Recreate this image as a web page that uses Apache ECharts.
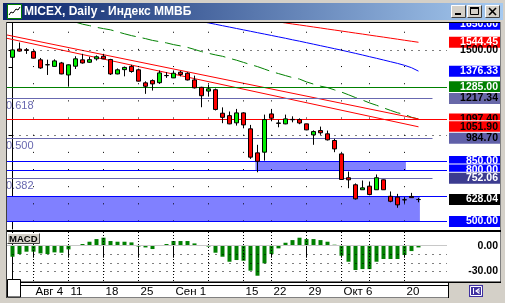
<!DOCTYPE html>
<html><head><meta charset="utf-8">
<script src="https://cdn.jsdelivr.net/npm/echarts@6/dist/echarts.min.js"></script>
<style>html,body{margin:0;padding:0;background:#d4d0c8;overflow:hidden}#c{width:505px;height:303px}</style>
</head><body><div id="c"></div>
<script>
// ---------------- data ----------------
const dates = ['2008-07-30','2008-07-31','2008-08-01','2008-08-04','2008-08-05','2008-08-06','2008-08-07','2008-08-08',
 '2008-08-11','2008-08-12','2008-08-13','2008-08-14','2008-08-15','2008-08-18','2008-08-19','2008-08-20','2008-08-21','2008-08-22',
 '2008-08-25','2008-08-26','2008-08-27','2008-08-28','2008-08-29','2008-09-01','2008-09-02','2008-09-03','2008-09-04','2008-09-05',
 '2008-09-08','2008-09-09','2008-09-10','2008-09-11','2008-09-12','2008-09-15','2008-09-16','2008-09-17','2008-09-19',
 '2008-09-22','2008-09-23','2008-09-24','2008-09-25','2008-09-26','2008-09-29','2008-09-30','2008-10-01','2008-10-02','2008-10-03',
 '2008-10-06','2008-10-07','2008-10-08','2008-10-09','2008-10-13','2008-10-14','2008-10-15','2008-10-16','2008-10-17',
 '2008-10-20','2008-10-21','2008-10-22'];
const openP  = [1457,1505,1501,1490,1442,1414,1404,1424,1354,1405,1442,1428,1448,1463,1444,1360,1385,1404,1384,1308,1321,1309,1351,1337,1370,1364,1325,1282,1260,1268,1131,1117,1075,1133,1040,900,904,1127,1074,1069,1095,1094,1069,1005,1030,1011,972,894,755,714,685,706,685,743,647,642,627,646,628];
const highP  = [1506,1543,1511,1496,1453,1443,1445,1430,1415,1463,1477,1460,1468,1477,1448,1392,1403,1413,1391,1317,1328,1380,1370,1380,1378,1370,1350,1285,1298,1275,1165,1141,1156,1137,1063,947,1123,1156,1092,1123,1113,1101,1070,1031,1053,1030,982,898,791,722,739,733,774,745,675,661,642,667,638];
const lowP   = [1442,1490,1477,1450,1390,1354,1403,1358,1286,1389,1420,1425,1438,1446,1354,1358,1346,1367,1316,1244,1263,1302,1337,1336,1346,1322,1275,1166,1228,1147,1073,1067,1059,1043,865,787,855,1084,1049,1067,1078,1067,1032,947,1005,972,904,744,694,628,685,653,685,684,612,580,607,638,612];
const closeP = [1500,1493,1497,1452,1395,1413,1436,1360,1413,1448,1424,1443,1460,1448,1360,1384,1398,1374,1318,1288,1302,1366,1350,1364,1357,1325,1279,1233,1273,1153,1107,1069,1133,1063,875,851,1094,1102,1072,1098,1093,1074,1034,1024,1017,976,923,745,743,632,696,657,755,685,618,597,626,639,628.04];
const macdHist = [-12.9,-9.8,-7,-7,-9,-9.8,-7.8,-8.2,-4.3,0.3,2,4.7,7.8,9.4,5.5,4.7,4.7,3.9,-1,-2,-3.9,0,2,5.5,5.5,5.5,2.7,0.5,-1,-8.2,-12.9,-18.8,-16.8,-17.6,-29.3,-35.2,-20.7,-9.8,-3.1,3.5,6.6,9.4,7.8,7.8,6.6,4.7,1.2,-11.7,-18.8,-28.5,-27.4,-27.4,-18.8,-15.6,-15.6,-15.6,-10.9,-6.3,-2];
const maGreenStart = 9;
const maGreen = [1662,1650,1641.5,1631.6,1624,1617,1605.4,1593.8,1583.3,1574.5,1565.8,1555.3,1548.3,1540.8,1530.9,1523.3,1514.6,1502.9,1490.1,1480.2,1470.9,1462.7,1451.1,1440,1427.2,1414.4,1402.7,1388.2,1373.6,1362,1350.3,1338.7,1330,1313.6,1300.8,1288.6,1280.4,1267,1254.2,1238.5,1222.2,1207.6,1191.3,1177.4,1162.2,1147.6,1133.7,1124.4,1107.5,1097.4];
const maBlueStart = 27;
const maBlue = [1664.6,1657.6,1649.4,1641.2,1633.1,1624.9,1616.8,1608.6,1600.4,1592.3,1584.1,1575.9,1567.8,1559,1550.9,1542.1,1533.4,1524.6,1515.9,1507.1,1498.4,1489,1479.7,1470.4,1460.5,1451.1,1441.2,1431.3,1421.4,1410.3,1396.3,1376.33];
const maRedStart = 37;
const maRed = [1669,1663,1657,1651,1645.5,1639.5,1633.5,1627.8,1621.6,1615.9,1610,1604,1598,1592.3,1586.2,1580.3,1574.5,1568.4,1562.5,1556.3,1550.4,1544.45];
const trendLines = [[-0.79,1586.9,58,1097.4],[-0.79,1567.6,58,1051.9]];
const fibRatios = ['0.618','0.500','0.382'];
const fibPrices = [1217.34,984.70,752.06];
const fibEndBar = 60;
const levelPrices = [1285,1097.4,850,800,645,500];
const zones = [[34.7,800,56.2,850],[-5,500,58.2,645]];
const priceLabels = [1650,1544.45,1500,1376.33,1285,1217.34,1097.4,1051.9,984.7,850,800,752.06,628.04,500];
const priceTicks = [1500,1400,1000,600];
const priceGridRows = [1500,1000];
const macdLabels = [0,-30];
const macdGridRows = [-10,-20,-30];
const weekBars = [3,8,13,18,23,28,33,37,42,47,51,56];
const xLabelBars = [3,8,13,18,23,33,37,42,47,56];
const xLabelText = ['Авг 4','11','18','25','Сен 1','15','22','29','Окт 6','20'];

// ---------------- styles ----------------
const FONT = 'Liberation Sans';
const XMIN = -0.7857, XMAX = XMIN + 440/7;
const levelColors = ['#008000','#ff0000','#0000ff','#0000ff','#0000ff','#0000ff'];
const labelBg = ['#0000ff','#ff0000','transparent','#0000ff','#008000','#6868a8','#ff0000','#ff0000','#6060a8','#0000ff','#0000ff','#3c3c90','#000000','#0000ff'];
const labelFg = ['#fff','#fff','#000','#fff','#fff','#000','#000','#000','#000','#fff','#fff','#fff','#fff','#fff'];
const fibColor = '#6868b0';

const rich = {};
priceLabels.forEach((p,k)=>{
  rich['p'+k] = {backgroundColor:labelBg[k], color:labelFg[k], width:47, align:'right', padding:[0,2,0,2],
    lineHeight:11, height:11, fontSize:10.5, fontWeight:'bold', fontFamily:FONT,
    borderColor: labelBg[k]==='transparent'?'transparent':'#fff', borderWidth: labelBg[k]==='transparent'?0:1};
});
const richM = {m:{width:47, align:'right', padding:[0,2,0,2], fontSize:10.5, fontWeight:'bold', fontFamily:FONT, color:'#000'}};

const chart = echarts.init(document.getElementById('c'), null, {renderer:'canvas'});

const candleData = openP.map((o,i)=>[i,o,closeP[i],lowP[i],highP[i]]);
const seq = (start, arr) => arr.map((v,k)=>[start+k, v]);

const gridMarks = [
  ...weekBars.map(b=>({xAxis:b, lineStyle:{type:[1,16.16], dashOffset:9.66, color:'#000', width:1}})),
  ...priceGridRows.map(v=>({yAxis:v, lineStyle:{type:[1,6], dashOffset:1.5, color:'#000', width:1}}))
];
const levelMarks = levelPrices.map((v,k)=>({yAxis:v, lineStyle:{type:'solid', color:levelColors[k], width:1}}));
const fibLine = {type:'solid', color:fibColor, width:1};
const fibMarks = fibPrices.map((v,k)=>[
  {coord:[XMIN,v], lineStyle:fibLine, label:{show:true, position:'insideStartBottom', formatter:fibRatios[k], color:fibColor,
     fontSize:11, fontFamily:FONT, distance:[-1,2]}},
  {coord:[fibEndBar,v], lineStyle:fibLine}
]);
const zoneMarks = zones.map(z=>[{coord:[z[0],z[1]]},{coord:[z[2],z[3]]}]);

const macdMarks = [
  ...weekBars.map(b=>({xAxis:b, lineStyle:{type:[1,2], color:'#000', width:1}})),
  ...macdGridRows.map(v=>({yAxis:v, lineStyle:{type:[1,6], dashOffset:1.5, color:'#000', width:1}})),
  {yAxis:0, lineStyle:{type:'solid', color:'#c8c8c8', width:1}}
];

// ---------------- chrome ----------------
const G = [];
G.push({type:'rect', z:-10, silent:true, shape:{x:0,y:0,width:505,height:303}, style:{fill:'#d4d0c8'}});
G.push({type:'rect', z:-9, silent:true, shape:{x:7,y:23,width:493,height:260}, style:{fill:'#fff'}});
G.push({type:'rect', z:-9, silent:true, shape:{x:7,y:283,width:441,height:15}, style:{fill:'#fff'}});
// title bar
G.push({type:'rect', z:49, silent:true, shape:{x:0,y:0,width:505,height:22}, style:{fill:'#d4d0c8'}});
G.push({type:'rect', z:49, silent:true, shape:{x:3,y:3,width:500,height:17},
  style:{fill:new echarts.graphic.LinearGradient(0,0,1,0,[{offset:0,color:'#0a246a'},{offset:1,color:'#a6caf0'}])}});
G.push({type:'rect', z:50, silent:true, shape:{x:7.5,y:4.5,width:14,height:14}, style:{fill:'#fff', stroke:'#008000', lineWidth:1}});
G.push({type:'polyline', z:51, silent:true, shape:{points:[[9,15],[11,12],[13,13],[16,9],[18,10],[20,7]]}, style:{stroke:'#000', lineWidth:1, fill:null}});
G.push({type:'text', z:51, silent:true, style:{text:'MICEX, Daily - Индекс ММВБ', x:24, y:12, verticalAlign:'middle', fill:'#fff', font:'bold 12px "Liberation Sans"'}});
[451,467,485].forEach((bx,k)=>{
  G.push({type:'rect', z:50, silent:true, shape:{x:bx,y:5,width:15,height:13}, style:{fill:'#d4d0c8'}});
  G.push({type:'polyline', z:51, silent:true, shape:{points:[[bx+0.5,17.5],[bx+0.5,5.5],[bx+14.5,5.5]]}, style:{stroke:'#fff', lineWidth:1, fill:null}});
  G.push({type:'polyline', z:51, silent:true, shape:{points:[[bx+0.5,17.5],[bx+14.5,17.5],[bx+14.5,5.5]]}, style:{stroke:'#404040', lineWidth:1, fill:null}});
  if(k===0) G.push({type:'rect', z:52, silent:true, shape:{x:bx+4,y:13,width:6,height:2}, style:{fill:'#000'}});
  if(k===1){ G.push({type:'rect', z:52, silent:true, shape:{x:bx+3.5,y:7.5,width:8,height:7}, style:{fill:null, stroke:'#000', lineWidth:1}});
             G.push({type:'rect', z:52, silent:true, shape:{x:bx+3,y:7,width:9,height:2}, style:{fill:'#000'}}); }
  if(k===2){ G.push({type:'line', z:52, silent:true, shape:{x1:bx+4,y1:8,x2:bx+11,y2:15}, style:{stroke:'#000', lineWidth:1.6}});
             G.push({type:'line', z:52, silent:true, shape:{x1:bx+11,y1:8,x2:bx+4,y2:15}, style:{stroke:'#000', lineWidth:1.6}}); }
});
// frame lines
const L = (x1,y1,x2,y2,c,w)=>G.push({type:'line', z:50, silent:true, shape:{x1,y1,x2,y2}, style:{stroke:c, lineWidth:w||1}});
L(6,22.5,501,22.5,'#000',1.2);
L(6.5,22,6.5,298,'#404040');
L(500.5,22,500.5,283,'#808080');
G.push({type:'rect', z:50, silent:true, shape:{x:7,y:230,width:494,height:2}, style:{fill:'#000'}});
G.push({type:'rect', z:50, silent:true, shape:{x:7,y:281.5,width:494,height:1.6}, style:{fill:'#000'}});
L(21,285.5,448,285.5,'#000');
L(448.5,283,448.5,298,'#000');
L(7,297.5,448,297.5,'#808080');
G.push({type:'rect', z:51, silent:true, shape:{x:7.5,y:279.5,width:13,height:17.5}, style:{fill:'#fff', stroke:'#000', lineWidth:1}});
// bottom right button
G.push({type:'rect', z:50, silent:true, shape:{x:469,y:285,width:14,height:12}, style:{fill:'#3f30a0'}});
G.push({type:'rect', z:51, silent:true, shape:{x:470.5,y:286.5,width:11,height:9}, style:{fill:null, stroke:'#fff', lineWidth:1}});
L(473.5,288,473.5,294,'#fff');
G.push({type:'polyline', z:51, silent:true, shape:{points:[[479.5,288.5],[476,291],[479.5,293.5]]}, style:{stroke:'#fff', lineWidth:1.2, fill:null}});
L(476,291,480,291,'#fff');
// MACD label box
G.push({type:'rect', z:50, silent:true, shape:{x:7.5,y:233.5,width:32,height:10}, style:{fill:'#d4d0c8'}});
G.push({type:'polyline', z:51, silent:true, shape:{points:[[7.5,243.5],[7.5,233.5],[39.5,233.5]]}, style:{stroke:'#fff', fill:null}});
G.push({type:'polyline', z:51, silent:true, shape:{points:[[7.5,243.5],[39.5,243.5],[39.5,233.5]]}, style:{stroke:'#404040', fill:null}});
G.push({type:'text', z:52, silent:true, style:{text:'MACD', x:9, y:239, verticalAlign:'middle', fill:'#000', font:'bold 9.5px "Liberation Sans"'}});

// ---------------- option ----------------
const option = {
  animation:false,
  textStyle:{fontFamily:FONT},
  graphic:G,
  grid:[
    {left:7, top:23, width:440, height:206, containLabel:false},
    {left:7, top:232, width:440, height:49, containLabel:false}
  ],
  xAxis:[
    {gridIndex:0, type:'value', min:XMIN, max:XMAX, show:false, splitLine:{show:false}},
    {gridIndex:1, type:'value', min:XMIN, max:XMAX, position:'bottom', offset:4,
      axisLine:{show:false},
      axisTick:{show:true, customValues:xLabelBars, length:12, inside:false, lineStyle:{color:'#000', width:1}},
      axisLabel:{show:true, customValues:xLabelBars, formatter:(v)=>xLabelText[xLabelBars.indexOf(v)],
        align:'left', verticalAlign:'top', margin:1, padding:[0,0,0,2], fontSize:11.5, fontFamily:FONT, color:'#000'},
      splitLine:{show:false}}
  ],
  yAxis:[
    {gridIndex:0, type:'value', min:456.3, max:1656.8, position:'right', scale:true,
      axisLine:{show:true, lineStyle:{color:'#000', width:1}},
      axisTick:{show:true, customValues:priceTicks, inside:true, length:4, lineStyle:{color:'#000'}},
      axisLabel:{show:true, customValues:priceLabels.slice(), margin:2, align:'left', verticalAlign:'middle',
        formatter:(v)=>{const k=priceLabels.findIndex(p=>Math.abs(p-v)<1e-6); return '{p'+k+'|'+priceLabels[k].toFixed(2)+'}';},
        rich:rich},
      splitLine:{show:false}},
    {gridIndex:1, type:'value', min:-41.4, max:16.1, position:'right',
      axisLine:{show:true, lineStyle:{color:'#000', width:1}},
      axisTick:{show:false},
      axisLabel:{show:true, customValues:macdLabels, margin:2, align:'left', verticalAlign:'middle',
        formatter:(v)=>'{m|'+v.toFixed(2)+'}', rich:richM},
      splitLine:{show:false}}
  ],
  series:[
    {type:'line', name:'zones', xAxisIndex:0, yAxisIndex:0, data:seq(maBlueStart, maBlue), symbol:'none', silent:true,
      lineStyle:{color:'#0000ff', width:1}, z:2,
      markArea:{silent:true, itemStyle:{color:'#8080ff', opacity:1}, data:zoneMarks}},
    {type:'line', name:'greenMA', xAxisIndex:0, yAxisIndex:0, data:seq(maGreenStart, maGreen), symbol:'none', silent:true,
      lineStyle:{color:'#008000', width:1, type:[16,7]}, z:3,
      markLine:{silent:true, symbol:['none','none'], label:{show:false}, animation:false,
        data:[...gridMarks, ...levelMarks, ...fibMarks]}},
    {type:'line', name:'redMA', xAxisIndex:0, yAxisIndex:0, data:seq(maRedStart, maRed), symbol:'none', silent:true,
      lineStyle:{color:'#ff0000', width:1}, z:3},
    ...trendLines.map(t=>({type:'line', xAxisIndex:0, yAxisIndex:0, data:[[t[0],t[1]],[t[2],t[3]]], symbol:'none', silent:true,
      lineStyle:{color:'#ff0000', width:1}, z:3})),
    {type:'candlestick', xAxisIndex:0, yAxisIndex:0, data:candleData, silent:true,
      dimensions:['x','open','close','lowest','highest'], encode:{x:0, y:[1,2,3,4]},
      barWidth:5,
      itemStyle:{color:'#00ee00', color0:'#ff0000', borderColor:'#000', borderColor0:'#000', borderColorDoji:'#000', borderWidth:1},
      z:5},
    {type:'bar', xAxisIndex:1, yAxisIndex:1, data:macdHist.map((v,i)=>[i,v]), barWidth:4, silent:true,
      itemStyle:{color:'#008000'}, z:3,
      markLine:{silent:true, symbol:['none','none'], label:{show:false}, animation:false, data:macdMarks}}
  ]
};
chart.setOption(option);
</script>
</body></html>
